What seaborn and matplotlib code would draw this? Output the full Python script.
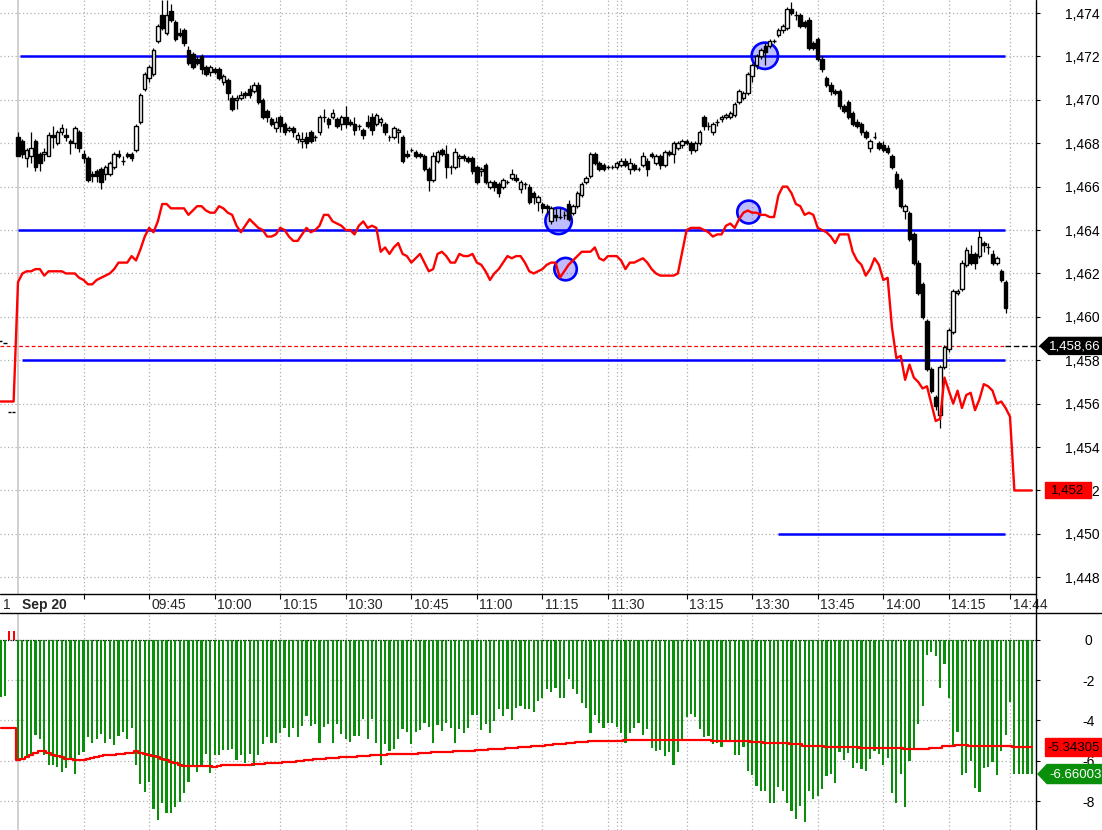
"""
Intraday chart: 1-minute candles, a second series (red line), horizontal
levels and an indicator histogram in the lower pane.
Saves out.png (1102x830).
"""

import numpy as np
import matplotlib
matplotlib.use("Agg")
import matplotlib.pyplot as plt
from matplotlib.patches import Polygon
import seaborn as sns

sns.set_theme(style="white")
plt.rcParams["font.family"] = ["Liberation Sans", "DejaVu Sans"]
plt.rcParams["figure.dpi"] = 100

W, H = 1102, 830
AXIS_X = 1036                      # pixel column of the right price axis
STRIP_TOP, STRIP_BOT = 594, 613    # time-label strip between the panes

BASE = 1.4          # candle / red-line values are pips (0.0001) above BASE
FIRST_BAR = -4      # four bars of the previous session on the left edge

# ── data ──────────────────────────────────────────────────────────────────────

opens = [
    589, 588, 556, 556,
    683, 681, 673, 674, 681, 675, 675, 674, 684, 680,
    685, 684, 681, 680, 685, 675, 673, 666, 667, 668,
    666, 666, 669, 675, 672, 675, 675, 677, 690, 705,
    710, 712, 727, 739, 731, 741, 736, 731, 732, 723,
    721, 719, 720, 715, 713, 714, 714, 708, 709, 701,
    700, 701, 703, 705, 704, 707, 700, 695, 691, 687,
    692, 689, 686, 687, 682, 681, 683, 685, 683, 685,
    692, 691, 692, 691, 689, 692, 690, 689, 688, 686,
    690, 692, 689, 690, 689, 683, 683, 685, 683, 675,
    677, 676, 675, 674, 668, 663, 672, 677, 675, 669,
    669, 673, 674, 673, 673, 669, 667, 670, 660, 662,
    661, 660, 662, 664, 664, 659, 661, 660, 657, 653,
    652, 651, 644, 647, 646, 647, 652, 648, 651, 656,
    662, 665, 675, 671, 670, 669, 669, 669, 670, 672,
    668, 670, 668, 670, 672, 675, 671, 674, 670, 676,
    675, 678, 679, 681, 680, 677, 680, 692, 688, 685,
    690, 691, 692, 692, 693, 699, 701, 703, 711, 716,
    720, 725, 725, 727, 730, 732, 733, 742, 739, 739,
    736, 737, 726, 728, 719, 710, 707, 704, 704, 697,
    699, 694, 690, 689, 685, 678, 683, 680, 679, 678,
    674, 666, 663, 649, 648, 638, 625, 615, 598, 576,
    563, 555, 577, 585, 593, 611, 613, 624, 629, 629,
    628, 634, 632, 629, 625, 621, 616,
]
closes = [
    589, 588, 556, 556,
    674, 675, 677, 678, 669, 671, 676, 684, 683, 685,
    687, 683, 680, 687, 678, 673, 663, 665, 665, 662,
    669, 671, 675, 674, 672, 674, 673, 688, 702, 712,
    715, 723, 734, 733, 739, 737, 728, 730, 726, 717,
    715, 717, 714, 712, 715, 713, 710, 711, 703, 696,
    701, 702, 702, 702, 707, 699, 692, 692, 689, 690,
    688, 685, 687, 685, 684, 682, 680, 681, 683, 692,
    692, 689, 694, 688, 692, 689, 689, 686, 688, 684,
    688, 686, 693, 691, 685, 683, 687, 686, 672, 674,
    677, 674, 674, 668, 663, 674, 676, 675, 669, 669,
    676, 674, 673, 672, 667, 662, 668, 662, 662, 660,
    657, 663, 662, 666, 663, 662, 661, 653, 655, 655,
    650, 650, 650, 646, 646, 647, 645, 651, 657, 661,
    664, 675, 671, 668, 668, 669, 669, 671, 672, 670,
    671, 668, 668, 674, 668, 674, 674, 670, 676, 675,
    680, 680, 681, 680, 677, 680, 685, 688, 688, 689,
    690, 692, 693, 694, 698, 704, 703, 712, 716, 720,
    723, 722, 727, 727, 732, 734, 742, 740, 739, 734,
    734, 724, 724, 719, 714, 707, 704, 703, 697, 695,
    692, 689, 688, 685, 683, 681, 683, 678, 677, 676,
    669, 660, 651, 651, 636, 625, 611, 600, 576, 566,
    559, 577, 586, 594, 612, 612, 625, 631, 625, 625,
    637, 633, 632, 625, 627, 617, 604,
]
highs = [
    589, 588, 556, 556,
    685, 682, 678, 685, 682, 676, 678, 685, 688, 686,
    689, 687, 682, 688, 686, 677, 674, 667, 668, 669,
    670, 672, 676, 677, 674, 676, 676, 689, 703, 713,
    716, 724, 735, 746, 746, 744, 737, 733, 733, 725,
    722, 720, 721, 716, 716, 715, 715, 712, 710, 702,
    702, 704, 704, 707, 708, 708, 701, 696, 692, 692,
    693, 690, 688, 688, 685, 685, 685, 686, 684, 693,
    696, 692, 696, 692, 693, 697, 691, 692, 689, 687,
    693, 694, 694, 692, 690, 684, 688, 687, 684, 677,
    678, 677, 676, 675, 669, 676, 677, 678, 679, 670,
    678, 675, 675, 674, 674, 670, 669, 671, 663, 663,
    662, 664, 663, 668, 666, 663, 662, 661, 658, 656,
    653, 652, 651, 650, 650, 649, 654, 652, 658, 662,
    665, 676, 676, 672, 671, 670, 670, 672, 673, 673,
    673, 671, 669, 676, 673, 676, 675, 675, 677, 677,
    681, 681, 682, 682, 681, 681, 686, 693, 690, 690,
    691, 693, 694, 695, 699, 705, 704, 713, 717, 721,
    724, 726, 728, 728, 733, 735, 743, 745, 741, 740,
    737, 738, 727, 729, 720, 711, 708, 705, 705, 698,
    700, 695, 691, 690, 686, 682, 685, 681, 681, 679,
    675, 667, 664, 652, 649, 639, 626, 616, 599, 577,
    564, 578, 587, 595, 613, 613, 626, 632, 633, 630,
    640, 635, 634, 631, 628, 622, 617,
]
lows = [
    589, 588, 556, 556,
    674, 673, 669, 671, 667, 667, 672, 674, 678, 679,
    684, 681, 675, 678, 676, 671, 662, 662, 662, 659,
    663, 665, 668, 673, 670, 673, 672, 676, 689, 704,
    708, 711, 726, 732, 730, 736, 727, 729, 725, 716,
    714, 716, 712, 711, 711, 712, 709, 707, 700, 695,
    696, 700, 701, 701, 703, 698, 691, 690, 688, 685,
    685, 684, 685, 683, 680, 678, 678, 680, 681, 684,
    690, 687, 691, 687, 686, 687, 688, 684, 686, 682,
    687, 684, 688, 688, 684, 681, 682, 680, 671, 673,
    676, 673, 673, 667, 658, 662, 671, 674, 664, 666,
    668, 669, 672, 671, 666, 661, 665, 661, 659, 658,
    655, 659, 661, 663, 662, 657, 659, 652, 652, 649,
    648, 648, 643, 644, 645, 645, 644, 647, 650, 655,
    661, 664, 670, 667, 667, 668, 668, 668, 669, 669,
    666, 667, 667, 669, 665, 673, 670, 668, 669, 674,
    671, 677, 678, 679, 675, 676, 679, 686, 686, 684,
    688, 690, 691, 691, 692, 698, 700, 702, 708, 714,
    719, 716, 724, 726, 729, 731, 732, 739, 737, 733,
    733, 723, 723, 718, 713, 706, 702, 702, 696, 694,
    691, 688, 687, 684, 682, 676, 682, 677, 676, 675,
    668, 659, 650, 645, 635, 624, 610, 599, 575, 565,
    557, 549, 576, 584, 592, 610, 612, 623, 624, 622,
    627, 630, 629, 624, 624, 616, 602,
]

# second instrument drawn over the candles (pips above BASE)
red_series = [
    561, 561, 561, 561,
    616, 620, 621, 621, 622, 622, 619, 621, 621, 621,
    621, 620, 620, 620, 618, 617, 615, 615, 617, 618,
    619, 620, 622, 625, 625, 625, 628, 626, 631, 637,
    641, 639, 644, 652, 652, 650, 650, 650, 650, 647,
    649, 651, 651, 649, 648, 648, 651, 650, 648, 647,
    642, 639, 642, 645, 643, 641, 640, 637, 637, 638,
    641, 640, 637, 635, 635, 638, 641, 639, 640, 642,
    647, 647, 644, 643, 642, 640, 640, 638, 642, 644,
    641, 642, 641, 630, 632, 629, 632, 634, 629, 628,
    625, 627, 629, 625, 621, 622, 629, 630, 628, 625,
    625, 629, 628, 628, 629, 625, 624, 621, 617, 620,
    622, 625, 628, 627, 628, 628, 625, 621, 620, 621,
    622, 624, 625, 625, 618, 621, 624, 626, 628, 630,
    630, 630, 632, 627, 626, 628, 628, 628, 626, 622,
    625, 625, 626, 627, 625, 622, 620, 619, 619, 619,
    619, 620, 630, 640, 641, 641, 641, 640, 639, 637,
    638, 638, 642, 643, 641, 645, 648, 649, 648, 648,
    647, 647, 646, 646, 656, 660, 660, 657, 652, 651,
    647, 648, 647, 641, 640, 639, 637, 634, 638, 638,
    638, 630, 626, 624, 619, 622, 627, 624, 617, 618,
    595, 581, 582, 571, 578, 572, 570, 567, 568, 560,
    552, 553, 572, 566, 560, 566, 558, 564, 565, 557,
    562, 569, 568, 566, 560, 561, 558, 554, 520, 520,
    520, 520, 520,
]

# lower pane: histogram and its signal line
histogram = [
    -2.85, -2.77, 0.45, 0.45,
    -5.89, -5.89, -5.80, -5.64, -4.73, -4.94, -5.72, -6.22, -6.22, -6.30,
    -6.55, -6.35, -5.97, -6.68, -5.72, -5.56, -4.84, -5.10, -4.93, -4.68,
    -5.10, -4.93, -5.22, -4.78, -4.56, -4.93, -4.39, -6.22, -7.16, -7.54,
    -7.05, -8.42, -8.92, -8.09, -8.59, -8.62, -8.29, -8.04, -7.59, -7.05,
    -6.30, -6.55, -6.30, -5.64, -6.63, -5.72, -5.72, -5.47, -5.47, -5.44,
    -5.97, -5.72, -6.10, -5.64, -6.27, -5.72, -5.19, -4.81, -5.14, -5.14,
    -4.64, -4.39, -4.81, -4.39, -4.81, -4.27, -3.78, -4.27, -4.18, -5.14,
    -4.31, -4.18, -5.10, -4.18, -4.69, -4.94, -5.06, -4.78, -4.78, -3.95,
    -4.94, -3.95, -5.10, -6.19, -5.18, -5.51, -5.43, -4.90, -4.44, -4.55,
    -5.18, -4.55, -4.49, -4.14, -4.30, -5.10, -4.24, -4.52, -4.10, -4.35,
    -5.13, -4.40, -4.64, -4.35, -3.74, -3.74, -4.49, -4.19, -4.60, -4.02,
    -3.44, -3.77, -3.44, -3.97, -3.39, -3.28, -3.44, -3.41, -3.58, -3.03,
    -2.90, -2.45, -2.57, -2.37, -2.86, -2.86, -1.95, -2.45, -2.70, -3.15,
    -3.39, -4.60, -3.74, -4.10, -4.35, -4.10, -4.10, -4.30, -4.64, -5.13,
    -4.60, -4.35, -4.14, -4.73, -4.44, -5.39, -5.51, -5.48, -5.76, -5.56,
    -6.19, -5.56, -4.95, -3.85, -3.68, -3.85, -4.43, -4.81, -4.76, -5.18,
    -5.11, -5.34, -5.01, -5.01, -5.69, -5.69, -5.31, -6.51, -6.72, -7.25,
    -7.50, -7.50, -8.08, -8.08, -7.30, -7.50, -8.08, -8.51, -8.88, -8.25,
    -9.05, -7.50, -7.92, -7.77, -7.39, -6.77, -6.64, -7.09, -5.56, -5.98,
    -5.61, -6.36, -6.11, -6.39, -6.51, -5.89, -5.51, -5.68, -6.19, -5.84,
    -7.59, -8.08, -6.67, -8.30, -6.01, -5.39, -4.18, -3.29, -0.75, -0.61,
    -0.80, -2.37, -1.20, -2.87, -5.31, -4.56, -6.69, -6.61, -6.01, -7.34,
    -7.55, -6.34, -6.31, -6.06, -6.72, -5.51, -4.73, -3.07, -6.64, -6.64,
    -6.64, -6.64, -6.66,
]
signal = [
    -4.39, -4.39, -4.39, -4.39,
    -5.94, -5.92, -5.80, -5.72, -5.60, -5.50, -5.50, -5.60, -5.70, -5.76,
    -5.83, -5.90, -5.93, -5.97, -5.97, -5.95, -5.90, -5.85, -5.80, -5.76,
    -5.72, -5.70, -5.69, -5.67, -5.64, -5.62, -5.60, -5.54, -5.60, -5.65,
    -5.70, -5.75, -5.83, -5.90, -5.97, -6.05, -6.12, -6.20, -6.27, -6.27,
    -6.27, -6.27, -6.27, -6.27, -6.27, -6.30, -6.25, -6.22, -6.22, -6.20,
    -6.20, -6.20, -6.20, -6.20, -6.17, -6.15, -6.15, -6.13, -6.12, -6.10,
    -6.10, -6.08, -6.05, -6.05, -6.02, -6.00, -5.97, -5.95, -5.93, -5.92,
    -5.90, -5.88, -5.85, -5.85, -5.83, -5.82, -5.80, -5.80, -5.78, -5.76,
    -5.75, -5.73, -5.73, -5.73, -5.73, -5.68, -5.68, -5.68, -5.68, -5.68,
    -5.68, -5.68, -5.63, -5.63, -5.63, -5.58, -5.58, -5.58, -5.58, -5.58,
    -5.53, -5.53, -5.53, -5.53, -5.53, -5.48, -5.48, -5.48, -5.43, -5.43,
    -5.43, -5.43, -5.38, -5.38, -5.38, -5.33, -5.33, -5.33, -5.28, -5.28,
    -5.28, -5.23, -5.23, -5.18, -5.18, -5.18, -5.13, -5.13, -5.08, -5.08,
    -5.08, -5.03, -5.03, -5.03, -5.03, -5.03, -5.03, -5.03, -5.03, -4.98,
    -4.98, -4.98, -4.98, -4.98, -4.98, -4.98, -4.98, -4.98, -4.98, -4.98,
    -4.98, -4.98, -4.98, -4.98, -4.98, -4.98, -4.98, -4.98, -4.98, -5.02,
    -5.02, -5.02, -5.02, -5.02, -5.02, -5.02, -5.02, -5.02, -5.06, -5.06,
    -5.06, -5.10, -5.10, -5.10, -5.14, -5.14, -5.14, -5.19, -5.19, -5.19,
    -5.25, -5.25, -5.25, -5.25, -5.25, -5.30, -5.30, -5.30, -5.30, -5.30,
    -5.30, -5.30, -5.30, -5.35, -5.35, -5.35, -5.35, -5.35, -5.35, -5.38,
    -5.38, -5.38, -5.38, -5.42, -5.42, -5.42, -5.42, -5.42, -5.42, -5.36,
    -5.36, -5.36, -5.29, -5.29, -5.29, -5.24, -5.24, -5.24, -5.28, -5.28,
    -5.28, -5.28, -5.28, -5.28, -5.28, -5.28, -5.28, -5.28, -5.34, -5.34,
    -5.34, -5.34, -5.34,
]

# horizontal levels (price, first bar, last bar)
level_prices = [1.472, 1.464, 1.458, 1.450]
level_start = [0.5, 0.0, 0.9, 173.9]
level_end = [225.9, 225.9, 225.9, 225.9]
price_line = 1.45866

# highlighted points (bar, price, marker area)
circle_bars = [123.7, 125.3, 167.2, 170.9]
circle_prices = [1.46442, 1.4622, 1.46483, 1.47203]
circle_sizes = [360, 260, 270, 360]

# time axis
time_ticks = [15, 30, 45, 60, 75, 90, 105, 120, 135, 153, 168, 183, 198, 213, 227]
time_labels = ["", "09:45", "10:00", "10:15", "10:30", "10:45", "11:00", "11:15",
               "11:30", "13:15", "13:30", "13:45", "14:00", "14:15", "14:44"]
session_marks = [137, 138]
price_ticks = [1.448, 1.450, 1.452, 1.454, 1.456, 1.458, 1.460, 1.462,
               1.464, 1.466, 1.468, 1.470, 1.472, 1.474]
ind_ticks = [0, -2, -4, -6, -8]

tag_price_text = "1,458,66"
tag_red_text = "1,452"
tag_signal_text = "-5.34305"
tag_hist_text = "-6.66003"

XLIM = (-4.12, 232.95)
PRICE_LIM = (1.44723, 1.4746)
IND_LIM = (-9.44, 1.34)

GRID = dict(color="#b0b0b0", linestyle=(0, (1, 2)), linewidth=0.9)
GREEN = "#0a8f0a"


def bars_of(values):
    return FIRST_BAR + np.arange(len(values))


def pips(values):
    return BASE + np.asarray(values, dtype=float) / 1e4


# ── price pane ────────────────────────────────────────────────────────────────

def draw_price(ax):
    x = bars_of(opens)
    o, c, hi, lo = pips(opens), pips(closes), pips(highs), pips(lows)

    ax.vlines(x, lo, hi, color="black", lw=0.9, zorder=3)
    face = np.where(c > o, "white", "black")
    ax.bar(x, np.abs(c - o), bottom=np.minimum(o, c), width=0.8,
           color=face, edgecolor="black", linewidth=1.0, zorder=4)

    for p, a, b in zip(level_prices, level_start, level_end):
        ax.hlines(p, a, b, color="#0000ff", lw=1.8, zorder=2)
    ax.hlines(price_line, XLIM[0], level_end[0], color="red", lw=0.9,
              linestyles=(0, (3, 2)), zorder=2)

    ax.scatter(circle_bars, circle_prices, s=circle_sizes,
               facecolor=(0.0, 0.0, 1.0, 0.26), edgecolor="#0000ff",
               linewidth=1.9, zorder=1.8)

    sns.lineplot(x=bars_of(red_series), y=pips(red_series), color="red",
                 lw=1.7, ax=ax, zorder=5)

    ax.axvline(-0.1, color="#c8c8c8", lw=1.2, zorder=0.5)
    ax.set_xlim(*XLIM)
    ax.set_ylim(*PRICE_LIM)
    ax.set_xticks(time_ticks + session_marks)
    ax.tick_params(axis="x", length=0, labelbottom=False)
    ax.yaxis.tick_right()
    ax.set_yticks(price_ticks)
    ax.set_yticklabels([f"{v:.3f}".replace(".", ",") for v in price_ticks])
    ax.tick_params(axis="y", direction="out", length=3, width=0.8, pad=18,
                   labelsize=10, colors="black", right=True)
    ax.grid(True, **GRID)
    ax.set_axisbelow(True)
    ax.set_xlabel("")
    ax.set_ylabel("")
    for s in ax.spines.values():
        s.set_visible(False)


# ── time strip ────────────────────────────────────────────────────────────────

def draw_strip(ax):
    ax.set_xlim(*XLIM)
    ax.set_ylim(0, 1)
    ax.axis("off")
    ax.vlines(time_ticks, 0.72, 1.0, color="black", lw=0.8)
    for t, lab in zip(time_ticks, time_labels):
        if lab:
            ax.text(t + 0.6, 0.42, lab, ha="left", va="center", fontsize=10)
    ax.text(-3.5, 0.42, "1", ha="left", va="center", fontsize=10)
    ax.text(1.0, 0.42, "Sep 20", ha="left", va="center", fontsize=10,
            fontweight="bold")


# ── indicator pane ────────────────────────────────────────────────────────────

def draw_indicator(ax):
    hist = np.asarray(histogram)
    ax.bar(bars_of(histogram), hist, width=0.5,
           color=np.where(hist > 0, "red", GREEN), linewidth=0, zorder=3)
    sns.lineplot(x=bars_of(signal), y=signal, color="red", lw=1.6,
                 drawstyle="steps-mid", ax=ax, zorder=4)
    ax.axhline(0, color="black", lw=0.9, linestyle=(0, (1, 1)), zorder=2)
    ax.axvline(-0.1, color="#c8c8c8", lw=1.2, zorder=0.5)

    ax.set_xlim(*XLIM)
    ax.set_ylim(*IND_LIM)
    ax.set_xticks(time_ticks + session_marks)
    ax.tick_params(axis="x", length=0, labelbottom=False)
    ax.yaxis.tick_right()
    ax.set_yticks(ind_ticks)
    ax.set_yticklabels([str(v) for v in ind_ticks])
    ax.tick_params(axis="y", direction="out", length=3, width=0.8, pad=35,
                   labelsize=10, colors="black", right=True)
    for lbl in ax.get_yticklabels():
        lbl.set_horizontalalignment("center")
    ax.grid(True, **GRID)
    ax.set_axisbelow(True)
    ax.set_xlabel("")
    ax.set_ylabel("")
    for s in ax.spines.values():
        s.set_visible(False)


# ── right-margin value tags ──────────────────────────────────────────────────

def to_px(ax, x, y):
    dx, dy = ax.transData.transform((x, y))
    return dx, H - dy


def arrow_tag(ov, y, text, face, fg, tip, half, text_x):
    ov.add_patch(Polygon([(tip, y), (tip + 9, y - half), (W + 2, y - half),
                          (W + 2, y + half), (tip + 9, y + half)],
                         closed=True, facecolor=face, edgecolor=face, zorder=5))
    ov.text(text_x, y + 0.5, text, color=fg, ha="left", va="center",
            fontsize=9.5, zorder=6)


def box_tag(ov, y, text, x0, x1, half, text_x):
    ov.add_patch(Polygon([(x0, y - half), (x1, y - half), (x1, y + half),
                          (x0, y + half)], closed=True, facecolor="red",
                         edgecolor="red", zorder=5))
    ov.text(text_x, y + 0.5, text, color="black", ha="left", va="center",
            fontsize=9.5, zorder=6)


def draw_overlay(fig, ax_p, ax_i):
    ov = fig.add_axes([0, 0, 1, 1])
    ov.set_xlim(0, W)
    ov.set_ylim(H, 0)
    ov.axis("off")

    ov.plot([AXIS_X, AXIS_X], [0, H], color="black", lw=1)
    ov.plot([0, AXIS_X], [STRIP_TOP, STRIP_TOP], color="black", lw=1)
    ov.plot([0, W], [STRIP_BOT, STRIP_BOT], color="black", lw=1)

    x_end, y_line = to_px(ax_p, level_end[0], price_line)
    ov.plot([x_end, 1040], [y_line, y_line], color="black", lw=1,
            linestyle=(0, (4, 2)))
    arrow_tag(ov, y_line, tag_price_text, "black", "white", 1040, 8.5, 1049)

    _, y_red = to_px(ax_p, 0, pips(red_series)[-1])
    box_tag(ov, y_red, tag_red_text, 1045, 1091, 8, 1051)

    _, y_sig = to_px(ax_i, 0, signal[-1])
    box_tag(ov, y_sig, tag_signal_text, 1045, W + 2, 9, 1047)

    _, y_hist = to_px(ax_i, 0, histogram[-1])
    arrow_tag(ov, y_hist, tag_hist_text, GREEN, "white", 1038, 9.5, 1049)


def run() -> None:
    fig = plt.figure(figsize=(W / 100, H / 100), dpi=100)
    fig.patch.set_facecolor("white")
    ax_p = fig.add_axes([0, (H - STRIP_TOP) / H, AXIS_X / W, STRIP_TOP / H])
    ax_t = fig.add_axes([0, (H - STRIP_BOT) / H, AXIS_X / W, (STRIP_BOT - STRIP_TOP) / H])
    ax_i = fig.add_axes([0, 0, AXIS_X / W, (H - STRIP_BOT) / H])

    draw_price(ax_p)
    draw_strip(ax_t)
    draw_indicator(ax_i)
    draw_overlay(fig, ax_p, ax_i)

    fig.savefig("out.png", dpi=100)
    plt.close(fig)


if __name__ == "__main__":
    run()
